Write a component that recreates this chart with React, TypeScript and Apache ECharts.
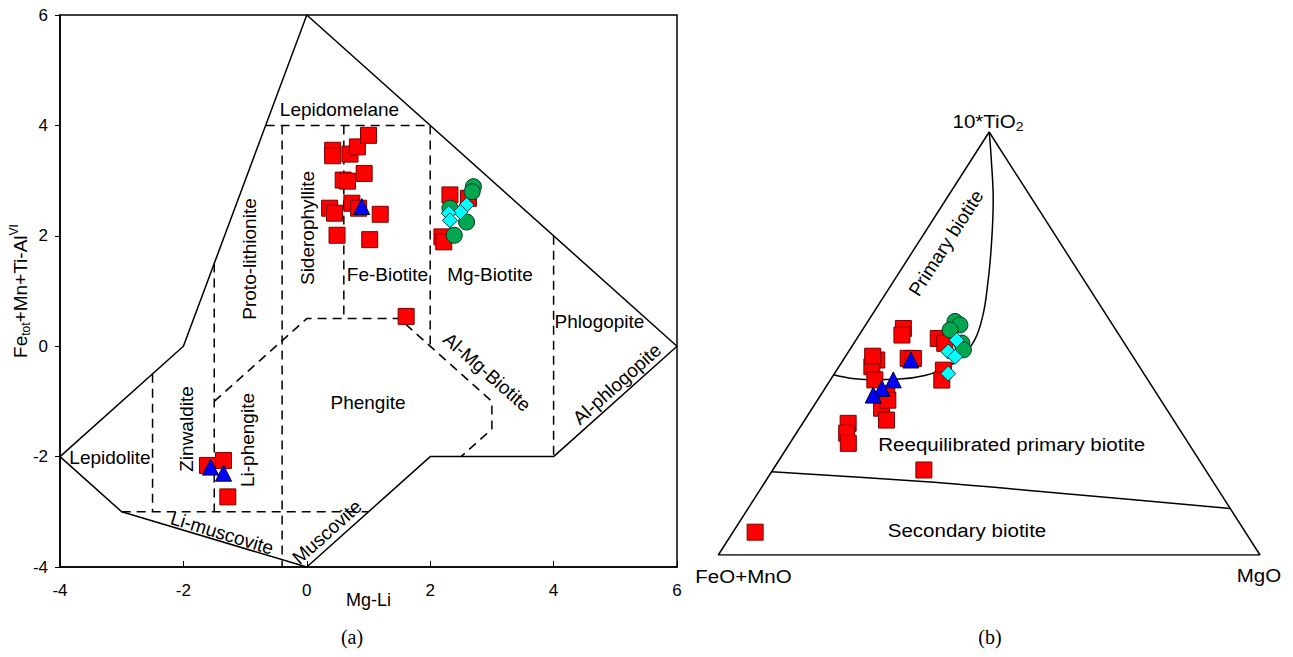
import React, { useEffect, useRef } from 'react';
import * as echarts from 'echarts';

// ---------- (a) Mg-Li vs Fetot+Mn+Ti-AlVI ----------
const xTicksA = { min: -4, max: 6, interval: 2 };
const yTicksA = { min: -4, max: 6, interval: 2 };

const redA: [number, number][] = [
  [0.42, 3.55], [0.42, 3.45], [0.70, 3.48], [0.82, 3.61], [1.00, 3.82],
  [0.59, 3.01], [0.66, 2.99], [0.93, 3.13], [0.37, 2.50], [0.45, 2.41],
  [0.49, 2.01], [0.73, 2.59], [0.84, 2.50], [1.19, 2.39], [1.02, 1.93],
  [2.32, 2.74], [2.62, 2.68], [2.19, 1.98], [2.22, 1.89], [1.61, 0.54],
  [-1.61, -2.16], [-1.35, -2.07], [-1.28, -2.73],
];
const blueA: [number, number][] = [[0.89, 2.53], [-1.56, -2.19], [-1.35, -2.30]];
const greenA: [number, number][] = [[2.70, 2.89], [2.68, 2.80], [2.32, 2.50], [2.59, 2.25], [2.39, 2.01]];
const cyanA: [number, number][] = [[2.59, 2.56], [2.49, 2.43], [2.30, 2.41], [2.32, 2.28]];

const outerBoundary: [number, number][] = [
  [0, 6], [-2, 0], [-4, -2], [-3, -3], [0, -4], [2, -2], [4, -2], [6, 0], [0, 6],
];
const dashedBoundaries: [number, number][][] = [
  [[-0.667, 4], [2, 4]],
  [[-0.4, 4], [-0.4, -4]],
  [[0.6, 4], [0.6, 0.5]],
  [[2, 4], [2, 0]],
  [[4, 2], [4, -2]],
  [[-1.5, 1.5], [-1.5, -3]],
  [[-2.5, -0.5], [-2.5, -3]],
  [[-3, -3], [1, -3]],
  [[-1.5, -1], [0, 0.5], [1.5, 0.5], [3, -1], [3, -1.5], [2.5, -2]],
];

// ---------- (b) ternary FeO+MnO – MgO – 10*TiO2 ----------
// [FeO+MnO, MgO, 10*TiO2] in %
const redB: [number, number, number][] = [
  [39.1, 7.4, 53.6], [40.1, 7.9, 52.0], [47.7, 6.2, 46.1], [49.4, 6.1, 44.5], [50.4, 8.2, 41.4],
  [49.8, 12.0, 38.2], [52.5, 12.8, 34.7], [53.0, 15.1, 31.9], [60.4, 8.4, 31.1], [61.9, 9.3, 28.8],
  [62.8, 10.8, 26.4], [33.8, 15.0, 51.2], [33.2, 16.8, 50.1], [41.7, 11.8, 46.5], [40.8, 12.8, 46.5],
  [36.6, 19.7, 43.7], [38.1, 20.6, 41.4], [52.0, 27.9, 20.1], [90.5, 4.1, 5.4], [50.4, 13.0, 36.6],
  [48.0, 5.0, 47.0],
];
const blueB: [number, number, number][] = [[41.4, 12.5, 46.1], [47.0, 11.6, 41.4], [50.1, 10.5, 39.4], [52.5, 9.7, 37.8]];
const greenB: [number, number, number][] = [[28.7, 16.1, 55.2], [28.2, 17.4, 54.4], [30.6, 16.2, 53.2], [30.0, 19.9, 50.1], [30.5, 21.0, 48.5]];
const cyanB: [number, number, number][] = [[30.6, 18.6, 50.8], [33.5, 18.4, 48.1], [32.9, 20.3, 46.9], [36.1, 21.0, 42.9]];

const triangleB: [number, number, number][] = [[100, 0, 0], [0, 100, 0], [0, 0, 100], [100, 0, 0]];
const primaryCurve: [number, number, number][] = [
  [57.4, 0, 42.6], [54.8, 3.4, 41.8], [51.3, 7.3, 41.5], [45.7, 12.7, 41.6], [40.6, 16.9, 42.4],
  [36.1, 19.8, 44.1], [31.5, 21.5, 47.0], [27.1, 21.9, 51.1], [22.8, 20.5, 56.7], [19.1, 18.3, 62.6],
  [13.6, 14.3, 72.1], [7.3, 8.8, 83.9], [2.9, 3.7, 93.4], [0, 0, 100],
];
const secondaryLine: [number, number, number][] = [[80.3, 0, 19.7], [52.9, 29.8, 17.3], [29.6, 55.8, 14.6], [0, 89, 11]];

const FONT = '"Liberation Sans", Arial, Helvetica, sans-serif';
const SERIF = '"Liberation Serif", "Times New Roman", serif';

const toXY = (p: [number, number, number]): [number, number] => {
  const s = p[0] + p[1] + p[2];
  return [(p[1] + p[2] / 2) / s, p[2] / s];
};

const deg = (d: number) => (d * Math.PI) / 180;

function label(text: string, x: number, y: number, o: { rot?: number; sx?: number; fs?: number; font?: string; rich?: any } = {}) {
  return {
    type: 'text',
    x,
    y,
    rotation: o.rot ? deg(o.rot) : 0,
    scaleX: o.sx || 1,
    z: 100,
    style: {
      text,
      fill: '#000',
      fontSize: o.fs || 19,
      fontFamily: o.font || FONT,
      align: 'center',
      verticalAlign: 'middle',
      rich: o.rich,
    },
  };
}

const markerStyle = {
  red: { color: '#FF0000', borderColor: '#7a0000', borderWidth: 1, opacity: 1 },
  blue: { color: '#0000FF', borderColor: '#000033', borderWidth: 1, opacity: 1 },
  green: { color: '#00A650', borderColor: '#003a1a', borderWidth: 1, opacity: 1 },
  cyan: { color: '#00FFFF', borderColor: '#003b3b', borderWidth: 1, opacity: 1 },
};

export default function App() {
  const ref = useRef<HTMLDivElement>(null);
  useEffect(() => {
    if (!ref.current) return;
    const chart = echarts.init(ref.current, undefined, { renderer: 'svg' });

    const lineSeries = (data: [number, number][], dashed: boolean, gi: number, smooth: boolean | number = false) => ({
      type: 'line',
      xAxisIndex: gi,
      yAxisIndex: gi,
      data,
      symbol: 'none',
      smooth,
      silent: true,
      z: 1,
      lineStyle: { color: '#000', width: 1.5, type: dashed ? [9, 6] : 'solid' },
    });
    const scatter = (name: string, data: [number, number][], symbol: string, size: number, style: any, gi: number, z: number) => ({
      name,
      type: 'scatter',
      xAxisIndex: gi,
      yAxisIndex: gi,
      data,
      symbol,
      symbolSize: size,
      itemStyle: style,
      z,
    });

    const series: any[] = [];
    series.push(lineSeries(outerBoundary, false, 0));
    dashedBoundaries.forEach((seg) => series.push(lineSeries(seg, true, 0)));
    series.push(scatter('Red A', redA, 'rect', 16, markerStyle.red, 0, 3));
    series.push(scatter('Blue A', blueA, 'triangle', 16, markerStyle.blue, 0, 4));
    series.push(scatter('Green A', greenA, 'circle', 16, markerStyle.green, 0, 5));
    series.push(scatter('Cyan A', cyanA, 'diamond', 15, markerStyle.cyan, 0, 6));

    series.push(lineSeries(triangleB.map(toXY), false, 1));
    series.push(lineSeries(primaryCurve.map(toXY), false, 1, 0.4));
    series.push(lineSeries(secondaryLine.map(toXY), false, 1, 0.3));
    series.push(scatter('Red B', redB.map(toXY), 'rect', 16, markerStyle.red, 1, 3));
    series.push(scatter('Blue B', blueB.map(toXY), 'triangle', 16, markerStyle.blue, 1, 4));
    series.push(scatter('Green B', greenB.map(toXY), 'circle', 16, markerStyle.green, 1, 5));
    series.push(scatter('Cyan B', cyanB.map(toXY), 'diamond', 15, markerStyle.cyan, 1, 6));

    const axisText = { color: '#000', fontSize: 17, fontFamily: FONT };

    chart.setOption({
      animation: false,
      backgroundColor: '#fff',
      grid: [
        { left: 60, top: 15, width: 617, height: 552, show: true, borderColor: '#000', borderWidth: 1.5, backgroundColor: 'transparent' },
        { left: 718.3, top: 132, width: 541.7, height: 423, show: false },
      ],
      xAxis: [
        {
          gridIndex: 0, type: 'value', min: xTicksA.min, max: xTicksA.max, interval: xTicksA.interval,
          axisLine: { onZero: false, lineStyle: { color: '#000', width: 1.5 } },
          axisTick: { inside: true, length: 6, lineStyle: { color: '#000' } },
          axisLabel: { ...axisText, margin: 15 },
          splitLine: { show: false },
          name: 'Mg-Li', nameLocation: 'middle', nameGap: 24, nameMoveOverlap: false,
          nameTextStyle: { color: '#000', fontSize: 18, fontFamily: FONT },
        },
        { gridIndex: 1, type: 'value', min: 0, max: 1, show: false },
      ],
      yAxis: [
        {
          gridIndex: 0, type: 'value', min: yTicksA.min, max: yTicksA.max, interval: yTicksA.interval,
          axisLine: { onZero: false, lineStyle: { color: '#000', width: 1.5 } },
          axisTick: { inside: false, length: 5, lineStyle: { color: '#000' } },
          axisLabel: { ...axisText, margin: 12 },
          splitLine: { show: false },
          name: '{a|Fe}{b|tot}{a|+Mn+Ti-Al}{c|VI}', nameLocation: 'middle', nameGap: 28, nameRotate: 90, nameMoveOverlap: false,
          nameTextStyle: {
            color: '#000', fontFamily: FONT,
            rich: {
              a: { fontSize: 19, lineHeight: 24, fontFamily: FONT, color: '#000' },
              b: { fontSize: 12, lineHeight: 12, verticalAlign: 'bottom', fontFamily: FONT, color: '#000' },
              c: { fontSize: 12, lineHeight: 12, verticalAlign: 'top', fontFamily: FONT, color: '#000' },
            },
          },
        },
        { gridIndex: 1, type: 'value', min: 0, max: 1, show: false },
      ],
      series,
      graphic: [
        // panel (a) field labels
        label('Lepidomelane', 339.5, 109),
        label('Siderophyllite', 307, 228, { rot: 90 }),
        label('Proto-lithionite', 249, 259, { rot: 90 }),
        label('Fe-Biotite', 387.5, 274),
        label('Mg-Biotite', 490, 274),
        label('Phlogopite', 599.5, 321),
        label('Al-Mg-Biotite', 487, 372, { rot: -41 }),
        label('Al-phlogopite', 617, 384, { rot: 41.8 }),
        label('Phengite', 368, 402),
        label('Zinwaldite', 186, 429, { rot: 90 }),
        label('Li-phengite', 247, 440, { rot: 90 }),
        label('Lepidolite', 110, 457),
        label('Li-muscovite', 222, 533, { rot: -17 }),
        label('Muscovite', 327, 532, { rot: 41.8 }),
        // panel (b) labels
        label('{a|10*TiO}{b|2}', 988, 121, {
          sx: 1.08,
          rich: {
            a: { fontSize: 19, lineHeight: 24, fontFamily: FONT, color: '#000' },
            b: { fontSize: 13, lineHeight: 13, verticalAlign: 'bottom', fontFamily: FONT, color: '#000' },
          },
        }),
        label('Primary biotite', 946, 243, { rot: 57.4 }),
        label('Reequilibrated primary biotite', 1011.7, 444, { sx: 1.08 }),
        label('Secondary biotite', 967, 530, { sx: 1.08 }),
        label('FeO+MnO', 743.5, 576, { sx: 1.08 }),
        label('MgO', 1259, 575, { sx: 1.08 }),
        // captions
        label('(a)', 352, 637, { font: SERIF, fs: 20 }),
        label('(b)', 990, 637, { font: SERIF, fs: 20 }),
      ],
    });
    return () => chart.dispose();
  }, []);
  return <div ref={ref} style={{ position: 'fixed', left: 0, top: 0, width: 1293, height: 657, background: '#fff' }} />;
}
